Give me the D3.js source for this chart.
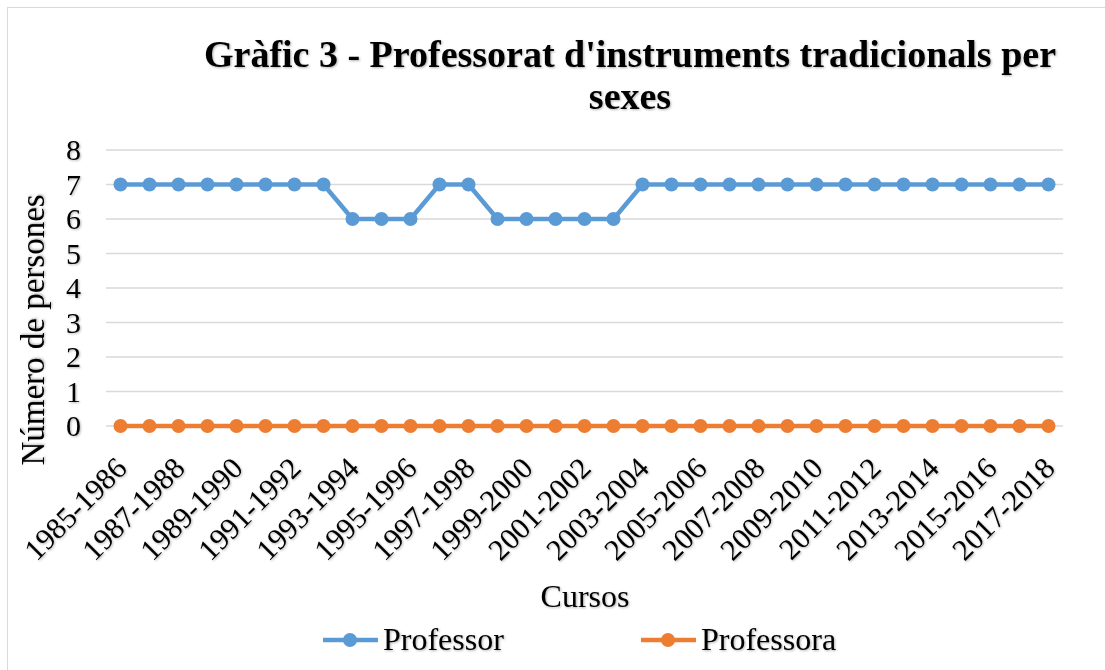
<!DOCTYPE html>
<html>
<head>
<meta charset="utf-8">
<script src="https://cdn.jsdelivr.net/npm/d3@7"></script>
<style>
  body { margin: 0; background: #fff; }
  svg text { font-family: "Liberation Serif", "Times New Roman", serif; fill: #000; }
</style>
</head>
<body>
<svg id="chart"></svg>
<script>
const cursos = [
  "1985-1986","1986-1987","1987-1988","1988-1989","1989-1990","1990-1991","1991-1992",
  "1992-1993","1993-1994","1994-1995","1995-1996","1996-1997","1997-1998","1998-1999",
  "1999-2000","2000-2001","2001-2002","2002-2003","2003-2004","2004-2005","2005-2006",
  "2006-2007","2007-2008","2008-2009","2009-2010","2010-2011","2011-2012","2012-2013",
  "2013-2014","2014-2015","2015-2016","2016-2017","2017-2018"
]
const professor = [7,7,7,7,7,7,7,7,6,6,6,7,7,6,6,6,6,6,7,7,7,7,7,7,7,7,7,7,7,7,7,7,7]
const professora = [0,0,0,0,0,0,0,0,0,0,0,0,0,0,0,0,0,0,0,0,0,0,0,0,0,0,0,0,0,0,0,0,0]
const yTicks = [0,1,2,3,4,5,6,7,8]

const series = [
  {name: "Professor", values: professor, color: "#5b9bd5"},
  {name: "Professora", values: professora, color: "#ed7d31"}
]

const width = 1105, height = 670
const svg = d3.select("#chart").attr("width", width).attr("height", height)

// soft shadow like the original labels
const defs = svg.append("defs")
defs.append("filter").attr("id", "shadow")
  .attr("x", "-10%").attr("y", "-10%").attr("width", "130%").attr("height", "130%")
  .append("feDropShadow")
  .attr("dx", 1).attr("dy", 1).attr("stdDeviation", 1)
  .attr("flood-color", "#000").attr("flood-opacity", 0.3)

svg.append("rect")
  .attr("x", 7.5).attr("y", 7.5)
  .attr("width", width).attr("height", height)
  .attr("fill", "#fff").attr("stroke", "#d9d9d9")

const x = d3.scaleBand().domain(cursos).range([106, 1063])
const y = d3.scaleLinear().domain([0, 8]).range([426, 150])

// gridlines
svg.append("g")
  .selectAll("line")
  .data(yTicks)
  .enter().append("line")
  .attr("x1", 106).attr("x2", 1063)
  .attr("y1", d => y(d)).attr("y2", d => y(d))
  .attr("stroke", "#d9d9d9").attr("stroke-width", 1.5)

// y axis labels
svg.append("g")
  .attr("filter", "url(#shadow)")
  .selectAll("text")
  .data(yTicks)
  .enter().append("text")
  .attr("x", 81)
  .attr("y", d => y(d) + 10)
  .attr("text-anchor", "end")
  .style("font-size", "30px")
  .text(d => d)

// x axis labels, every other category
svg.append("g")
  .attr("filter", "url(#shadow)")
  .selectAll("text")
  .data(cursos.filter((d, i) => i % 2 === 0))
  .enter().append("text")
  .attr("transform", d => `translate(${x(d) + x.bandwidth() / 2 + 8},${470}) rotate(-45)`)
  .attr("text-anchor", "end")
  .style("font-size", "30px")
  .text(d => d)

const line = d3.line()
  .x((d, i) => x(cursos[i]) + x.bandwidth() / 2)
  .y(d => y(d))

series.forEach(s => {
  svg.append("path")
    .datum(s.values)
    .attr("d", line)
    .attr("fill", "none")
    .attr("stroke", s.color)
    .attr("stroke-width", 4.5)
    .attr("stroke-linejoin", "round")

  svg.append("g")
    .selectAll("circle")
    .data(s.values)
    .enter().append("circle")
    .attr("cx", (d, i) => x(cursos[i]) + x.bandwidth() / 2)
    .attr("cy", d => y(d))
    .attr("r", 7)
    .attr("fill", s.color)
})

// title
const title = svg.append("text")
  .attr("text-anchor", "middle")
  .attr("filter", "url(#shadow)")
  .style("font-size", "38px")
  .style("font-weight", "bold")
title.append("tspan").attr("x", 630).attr("y", 67).text("Gràfic 3 - Professorat d'instruments tradicionals per")
title.append("tspan").attr("x", 630).attr("y", 109).text("sexes")

// axis titles
svg.append("text")
  .attr("transform", "translate(44,330) rotate(-90)")
  .attr("text-anchor", "middle")
  .attr("filter", "url(#shadow)")
  .style("font-size", "33px")
  .text("Número de persones")

svg.append("text")
  .attr("x", 585).attr("y", 607)
  .attr("text-anchor", "middle")
  .attr("filter", "url(#shadow)")
  .style("font-size", "32px")
  .text("Cursos")

// legend
const legendX = [323, 641]
const legend = svg.append("g")
  .selectAll("g")
  .data(series)
  .enter().append("g")
  .attr("transform", (d, i) => `translate(${legendX[i]},640)`)

legend.append("line")
  .attr("x1", 0).attr("x2", 55)
  .attr("stroke", d => d.color).attr("stroke-width", 4.5)
legend.append("circle")
  .attr("cx", 27).attr("r", 7)
  .attr("fill", d => d.color)
legend.append("text")
  .attr("x", 60).attr("y", 10)
  .attr("filter", "url(#shadow)")
  .style("font-size", "32px")
  .text(d => d.name)
</script>
</body>
</html>
